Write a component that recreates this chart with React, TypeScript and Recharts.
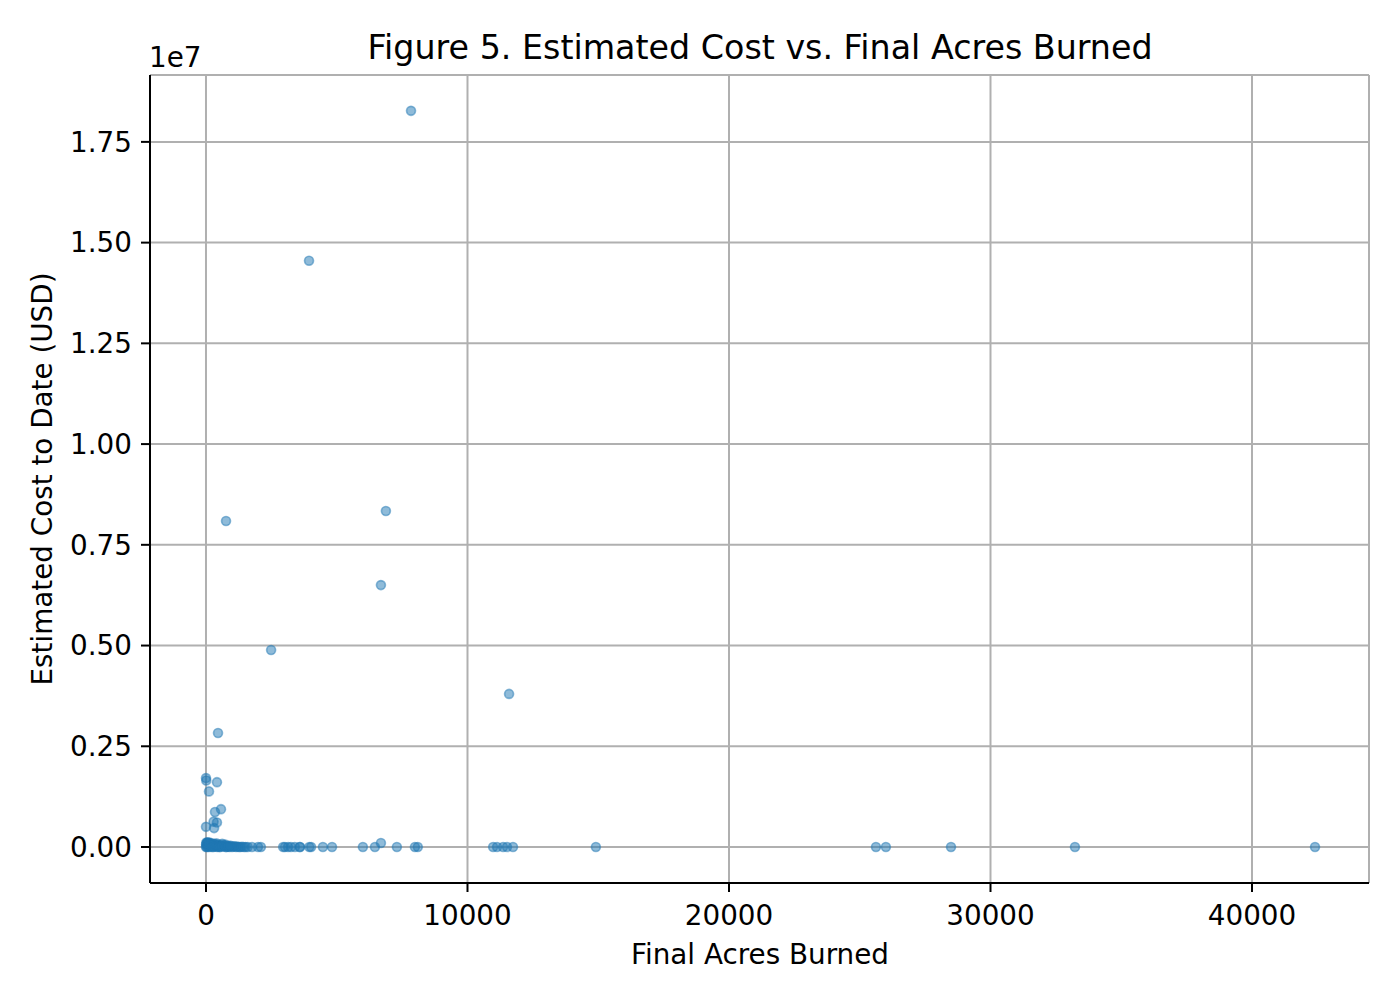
import React from 'react';
import {
  ScatterChart,
  Scatter,
  XAxis,
  YAxis,
  CartesianGrid,
} from 'recharts';

// Final acres burned for each incident
const acres = [
  7840, 3940, 766, 6880, 6690, 2490, 11590, 460, 0, 10, 420, 115, 574, 344, 420, 290, 0, 310,
  // dense cluster near the origin
  0, 5, 12, 20, 30, 45, 60, 80, 100, 120, 150, 180, 200, 230, 260, 300, 330, 360, 400, 430,
  470, 500, 540, 580, 620, 660, 700, 740, 780, 820, 860, 900, 950, 1000, 1050, 1100, 1150,
  1200, 1260, 1320, 1380, 1450, 1520, 1600, 40, 90, 140, 210, 280, 350, 440, 520, 640, 760, 880,
  // spread along the baseline
  1760, 1990, 2100, 2950, 3020, 3140, 3250, 3400, 3580, 3600, 3950, 4020, 4470, 4820,
  6000, 6460, 6690, 7300, 7990, 8100, 10980, 11130, 11360, 11510, 11740, 14910,
  25620, 26000, 28490, 33230, 42410,
];

// Estimated cost to date (USD), same order as acres
const costs = [
  18270000, 14550000, 8090000, 8340000, 6500000, 4890000, 3800000, 2830000, 1710000, 1650000,
  1610000, 1380000, 940000, 870000, 610000, 630000, 500000, 470000,
  0, 60000, 110000, 10000, 90000, 0, 120000, 30000, 100000, 0, 70000, 20000, 90000, 0, 60000,
  80000, 10000, 50000, 90000, 0, 20000, 60000, 0, 30000, 80000, 10000, 30000, 60000, 0, 20000,
  10000, 0, 30000, 0, 10000, 20000, 0, 10000, 0, 0, 5000, 0, 0, 0, 100000, 40000, 110000, 30000,
  0, 70000, 20000, 0, 40000, 0, 30000,
  0, 0, 0, 0, 0, 0, 0, 0, 0, 0, 0, 0, 0, 0,
  0, 0, 100000, 0, 0, 0, 0, 0, 0, 0, 0, 0,
  0, 0, 0, 0, 0,
];

const xTicks = [0, 10000, 20000, 30000, 40000];
const yTicks = [0, 2500000, 5000000, 7500000, 10000000, 12500000, 15000000, 17500000];

const points = acres.map((a, i) => ({ acres: a, cost: costs[i] }));

const FONT = '"DejaVu Sans", sans-serif';
const BLUE = '#1f77b4';

const Dot = (props: any) => (
  <circle
    cx={props.cx}
    cy={props.cy}
    r={4.5}
    fill={BLUE}
    fillOpacity={0.5}
    stroke={BLUE}
    strokeOpacity={0.5}
    strokeWidth={1.6}
  />
);

export default function App() {
  const tickStyle = { fontFamily: FONT, fontSize: 27.8, fill: '#000' };
  return (
    <div style={{ position: 'absolute', left: 0, top: 0, width: 1400, height: 1000, background: '#fff' }}>
      <ScatterChart width={1400} height={1000} margin={{ top: 75, right: 31, bottom: 0, left: 0 }}>
        <CartesianGrid stroke="#b0b0b0" strokeWidth={2} />
        <XAxis
          type="number"
          dataKey="acres"
          domain={[-2141, 44474]}
          ticks={xTicks}
          allowDataOverflow
          height={117}
          tick={tickStyle}
          tickLine={{ stroke: '#000', strokeWidth: 2 }}
          tickSize={9}
          tickMargin={13}
          axisLine={{ stroke: '#000', strokeWidth: 2 }}
        />
        <YAxis
          type="number"
          dataKey="cost"
          domain={[-893000, 19160000]}
          ticks={yTicks}
          allowDataOverflow
          width={150}
          tick={tickStyle}
          tickFormatter={(v: number) => (v / 1e7).toFixed(2)}
          tickLine={{ stroke: '#000', strokeWidth: 2 }}
          tickSize={9}
          tickMargin={9}
          axisLine={{ stroke: '#000', strokeWidth: 2 }}
        />
        <XAxis xAxisId="top" orientation="top" type="number" domain={[0, 1]} height={0} tick={false} tickLine={false} axisLine={{ stroke: '#000', strokeWidth: 2 }} />
        <YAxis yAxisId="right" orientation="right" type="number" domain={[0, 1]} width={0} tick={false} tickLine={false} axisLine={{ stroke: '#000', strokeWidth: 2 }} />
        <Scatter data={points} shape={Dot} isAnimationActive={false} />
        <text x={760} y={59} textAnchor="middle" style={{ fontFamily: FONT, fontSize: 33.3, fill: '#000' }}>
          Figure 5. Estimated Cost vs. Final Acres Burned
        </text>
        <text x={149} y={67} textAnchor="start" style={{ fontFamily: FONT, fontSize: 27.8, fill: '#000' }}>
          1e7
        </text>
        <text x={760} y={964} textAnchor="middle" style={{ fontFamily: FONT, fontSize: 27.8, fill: '#000' }}>
          Final Acres Burned
        </text>
        <text
          x={52}
          y={479}
          textAnchor="middle"
          transform="rotate(-90 52 479)"
          style={{ fontFamily: FONT, fontSize: 27.8, fill: '#000' }}
        >
          Estimated Cost to Date (USD)
        </text>
      </ScatterChart>
    </div>
  );
}
